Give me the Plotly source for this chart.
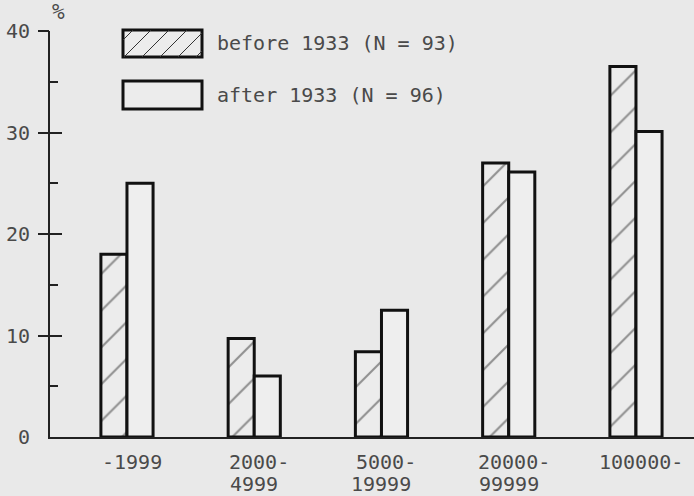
import plotly.graph_objects as go

# ---- data ----
categories = ["-1999", "2000-4999", "5000-19999", "20000-99999", "100000-"]
label_line1 = ["-1999", "2000-", "5000-", "20000-", "100000-"]
label_line2 = ["", "4999", "19999", "99999", ""]
before_1933 = [18.0, 9.7, 8.4, 27.0, 36.5]
after_1933 = [25.0, 6.0, 12.5, 26.1, 30.1]
series_names = ["before 1933 (N = 93)", "after 1933 (N = 96)"]
y_tick_vals = [0, 10, 20, 30, 40]
y_tick_text = ["0", "10", "20", "30", "40"]
y_minor_vals = [5, 15, 25, 35]

# ---- style ----
PAPER = "#e9e9e9"
INK = "#111111"
AX = "#222222"
TEXT = "#4a4a4a"
FONT = "DejaVu Sans Mono"
W, H = 694, 496
ML, MR, MT, MB = 50, 0, 31, 59
PW, PH = W - ML - MR, H - MT - MB

fig = go.Figure()
fig.add_trace(go.Bar(
    x=categories, y=before_1933, name=series_names[0],
    marker=dict(color="#ececec", line=dict(color=INK, width=3),
                pattern=dict(shape="/", size=26, solidity=0.08,
                             fgcolor="#333333", bgcolor="#ececec")),
    showlegend=False,
))
fig.add_trace(go.Bar(
    x=categories, y=after_1933, name=series_names[1],
    marker=dict(color="#eeeeee", line=dict(color=INK, width=3)),
    showlegend=False,
))

# category labels (two lines), positioned by category index
for i, (l1, l2) in enumerate(zip(label_line1, label_line2)):
    fig.add_annotation(x=i, y=0, xref="x", yref="y", text=l1, showarrow=False,
                       yanchor="middle", yshift=-25, xshift=5,
                       font=dict(family=FONT, size=20, color=TEXT))
    if l2:
        fig.add_annotation(x=i, y=0, xref="x", yref="y", text=l2, showarrow=False,
                           yanchor="middle", yshift=-47,
                           font=dict(family=FONT, size=20, color=TEXT))

# % unit label
fig.add_annotation(x=0, y=1, xref="paper", yref="paper", text="%", showarrow=False,
                   yanchor="middle", yshift=19, font=dict(family=FONT, size=21, color=TEXT))

# ---- legend drawn with shapes ----
def px_x(px):
    return (px - ML) / PW

def px_y(py):
    return (H - MB - py) / PH

boxes = [(123, 202, 30, 57), (123, 202, 81, 109)]
text_y = [43, 95]
for i, (x0, x1, y0, y1) in enumerate(boxes):
    fig.add_shape(type="rect", xref="paper", yref="paper",
                  x0=px_x(x0), x1=px_x(x1), y0=px_y(y1), y1=px_y(y0),
                  line=dict(color=INK, width=3), fillcolor="#ececec", layer="above")
    fig.add_annotation(x=px_x(215), y=px_y(text_y[i]), xref="paper", yref="paper",
                       text=series_names[i], showarrow=False, xanchor="left",
                       yanchor="middle", font=dict(family=FONT, size=20, color=TEXT))

# hatch lines in first legend box
x0, x1, y0, y1 = boxes[0]
k = x0 + y0 + 10
while k < x1 + y1:
    sx = max(x0, k - y1)
    ex = min(x1, k - y0)
    if sx < ex:
        fig.add_shape(type="line", xref="paper", yref="paper",
                      x0=px_x(sx), y0=px_y(k - sx), x1=px_x(ex), y1=px_y(k - ex),
                      line=dict(color="#333333", width=1), layer="above")
    k += 18

def tick_axis(vals, where, length):
    return dict(range=[0, 40], overlaying="y", side="left", anchor="x",
                tickmode="array", tickvals=vals, ticks=where, ticklen=length,
                tickwidth=2, tickcolor=AX, showticklabels=False, showgrid=False,
                zeroline=False, showline=False, fixedrange=True)

fig.update_layout(
    width=W, height=H,
    margin=dict(l=ML, r=MR, t=MT, b=MB, pad=0),
    paper_bgcolor=PAPER, plot_bgcolor=PAPER,
    barmode="group", bargap=0.59, bargroupgap=0,
    font=dict(family=FONT, size=20, color=TEXT),
    xaxis=dict(type="category", range=[-0.605, 4.456], showticklabels=False, ticks="",
               showline=True, linecolor=AX, linewidth=2,
               showgrid=False, zeroline=False, fixedrange=True),
    yaxis=dict(range=[0, 40], tickmode="array", tickvals=y_tick_vals, ticktext=y_tick_text,
               ticks="outside", ticklen=14, tickcolor="rgba(0,0,0,0)",
               showline=True, linecolor=AX, linewidth=2,
               showgrid=False, zeroline=False, fixedrange=True,
               tickfont=dict(family=FONT, size=20, color=TEXT)),
    yaxis2=tick_axis(y_tick_vals[1:], "outside", 11),
    yaxis3=tick_axis(y_tick_vals[1:], "inside", 12),
    yaxis4=tick_axis(y_minor_vals, "inside", 8),
)
# invisible traces to activate overlay axes
for ax in ["y2", "y3", "y4"]:
    fig.add_trace(go.Scatter(x=[categories[0]], y=[0], yaxis=ax, mode="markers",
                             marker=dict(opacity=0), showlegend=False, hoverinfo="skip"))

fig.write_html("out.html", config={"displayModeBar": False},
               post_script="document.body.style.margin='0';document.body.style.background='%s';" % PAPER)
